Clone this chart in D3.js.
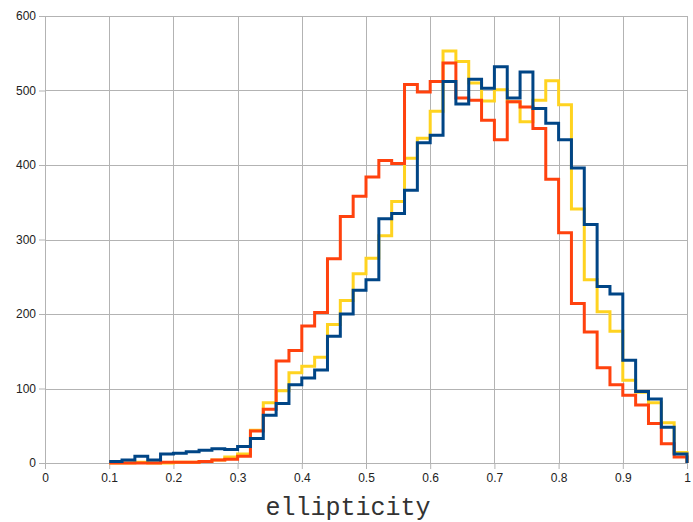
<!DOCTYPE html>
<html>
<head>
<meta charset="utf-8">
<script src="https://cdn.jsdelivr.net/npm/d3@7/dist/d3.min.js"></script>
<style>
  html, body { margin: 0; padding: 0; background: #fff; }
  svg { display: block; }
</style>
</head>
<body>
<svg id="chart" width="693" height="522"></svg>
<script>
// Bin starts (width 0.02) from 0.10 to 0.98
const binStarts = d3.range(45).map(i => +(0.1 + i * 0.02).toFixed(2));
const binWidth = 0.02;

const blueValues = [2, 4, 9, 4, 12, 13, 15, 17, 19, 18, 22, 33, 64, 80, 105, 114, 125, 170, 200, 232,
  246, 328, 335, 366, 430, 440, 512, 482, 515, 503, 532, 490, 525, 476, 456, 434, 396, 320, 237, 227,
  138, 96, 86, 48, 12];
const redValues = [0, 0, 0, 0, 1, 1, 1, 2, 4, 5, 9, 43, 72, 137, 151, 184, 202, 274, 331, 358,
  384, 406, 402, 508, 498, 512, 537, 490, 487, 460, 434, 485, 478, 449, 381, 309, 214, 176, 128, 105,
  91, 78, 53, 26, 8];
const yellowValues = [0, 0, 1, 0, 0, 1, 1, 2, 4, 8, 12, 44, 81, 97, 121, 130, 142, 186, 218, 254,
  275, 305, 351, 409, 436, 472, 553, 539, 510, 486, 501, 485, 458, 487, 513, 481, 341, 246, 203, 177,
  111, 95, 81, 54, 14];

const xTicks = [0, 0.1, 0.2, 0.3, 0.4, 0.5, 0.6, 0.7, 0.8, 0.9, 1];
const yTicks = [0, 100, 200, 300, 400, 500, 600];
const xTitle = "ellipticity";

const series = [
  { name: "yellow", color: "#FFD320", values: yellowValues },
  { name: "red", color: "#FF420E", values: redValues },
  { name: "blue", color: "#004586", values: blueValues }
];

(function () {
  const svg = d3.select("#chart");
  const mLeft = 45, mRight = 687, mTop = 16, mBottom = 463;

  const x = d3.scaleLinear().domain([0, 1]).range([mLeft, mRight]);
  const y = d3.scaleLinear().domain([0, 600]).range([mBottom, mTop]);

  const gridColor = "#b3b3b3";

  // grid
  svg.append("g")
    .selectAll("line")
    .data(xTicks)
    .join("line")
    .attr("x1", d => Math.round(x(d)) + 0.5)
    .attr("x2", d => Math.round(x(d)) + 0.5)
    .attr("y1", mTop)
    .attr("y2", mBottom)
    .attr("stroke", gridColor)
    .attr("stroke-width", 1);

  svg.append("g")
    .selectAll("line")
    .data(yTicks)
    .join("line")
    .attr("x1", mLeft)
    .attr("x2", mRight)
    .attr("y1", d => Math.round(y(d)) + 0.5)
    .attr("y2", d => Math.round(y(d)) + 0.5)
    .attr("stroke", gridColor)
    .attr("stroke-width", 1);

  // axes
  const xAxis = d3.axisBottom(x).tickValues(xTicks).tickSize(6).tickPadding(4)
    .tickFormat(d => d3.format("~g")(d));
  const yAxis = d3.axisLeft(y).tickValues(yTicks).tickSize(6).tickPadding(3);

  const gx = svg.append("g").attr("transform", `translate(0,${Math.round(y(0))})`).call(xAxis);
  const gy = svg.append("g").attr("transform", `translate(${Math.round(x(0))},0)`).call(yAxis);

  [gx, gy].forEach(g => {
    g.select(".domain").attr("stroke", gridColor);
    g.selectAll(".tick line").attr("stroke", gridColor);
    g.selectAll(".tick text")
      .attr("fill", "#222")
      .style("font-family", "'Liberation Sans', Arial, sans-serif")
      .style("font-size", "12px");
  });

  // step lines
  const line = d3.line()
    .x(d => x(d[0]))
    .y(d => y(d[1]))
    .curve(d3.curveStepAfter);

  series.forEach(s => {
    const pts = binStarts.map((b, i) => [b, s.values[i]]);
    const end = binStarts[binStarts.length - 1] + binWidth;
    pts.push([end, s.values[s.values.length - 1]]);
    pts.push([end, 0]);
    svg.append("path")
      .datum(pts)
      .attr("fill", "none")
      .attr("stroke", s.color)
      .attr("stroke-width", 3)
      .attr("stroke-linejoin", "miter")
      .attr("d", line);
  });

  // x axis title
  svg.append("text")
    .attr("x", 348)
    .attr("y", 515)
    .attr("text-anchor", "middle")
    .style("font-family", "'Courier New', 'Liberation Mono', monospace")
    .style("font-size", "25px")
    .attr("fill", "#333")
    .text(xTitle);
})();
</script>
</body>
</html>
